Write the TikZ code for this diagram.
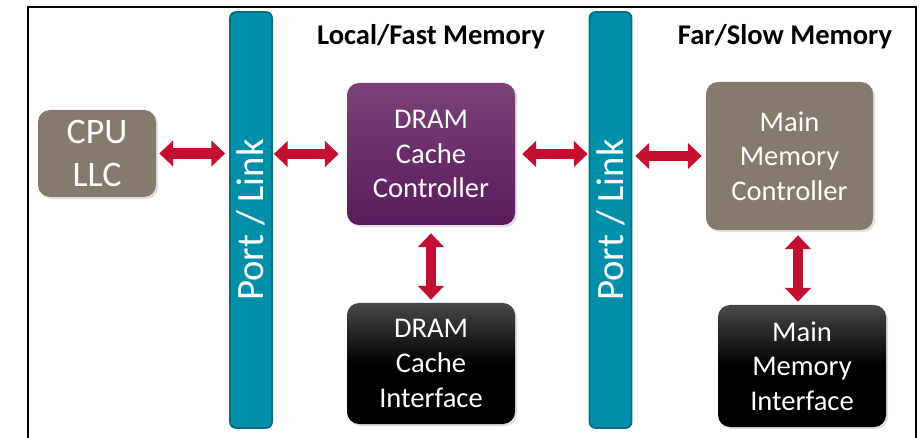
\documentclass[tikz,border=0pt]{standalone}
\usepackage{fontspec}
\setmainfont{Carlito}
\usetikzlibrary{positioning, arrows.meta, shadows}
\newdimen\pxu
\pxu=0.025cm

\begin{document}
\begin{tikzpicture}[
        x=0.025cm, y=-0.025cm,
        font=\fontsize{20.3}{24.6}\selectfont
    ]
        % Define custom colors matching the slide
        \definecolor{linkteal}{RGB}{0,143,168}
        \definecolor{linktealdark}{RGB}{0,112,132}
        \definecolor{cpugray}{RGB}{133,122,110}
        \definecolor{cachepurple}{RGB}{122,66,118}
        \definecolor{cachepurpledark}{RGB}{92,26,94}
        \definecolor{ifacegray}{RGB}{72,72,72}
        \definecolor{linkred}{RGB}{196,16,48}

        % Define node styles
        \tikzstyle{unit}=[
            rounded corners=12\pxu,
            text=white,
            align=center,
            inner sep=0pt,
            drop shadow={shadow xshift=1.5pt, shadow yshift=-1.5pt, opacity=0.25}
        ]
        \tikzstyle{portbar}=[
            draw=linktealdark, fill=linkteal, line width=1.2pt,
            rounded corners=6\pxu, text=white, inner sep=0pt,
            minimum width=42\pxu, minimum height=416\pxu
        ]
        \tikzstyle{linkarrow}=[
            linkred, line width=7.8pt,
            {Triangle[width=18pt, length=9.8pt]}-{Triangle[width=18pt, length=9.8pt]}
        ]
        \tikzstyle{heading}=[font=\fontsize{20.3}{24}\bfseries\selectfont, anchor=base]

        \useasboundingbox (0,0) rectangle (920,438);

        % --- Outer frame (open at the bottom) ---
        \draw[line width=2\pxu] (28,438) -- (28,7) -- (916,7) -- (916,438);

        % --- Port / Link bars ---
        \node[portbar] (port1) at (251,220) {\rotatebox{90}{\fontsize{27.5}{30}\selectfont Port / Link}};
        \node[portbar] (port2) at (610.5,220) {\rotatebox{90}{\fontsize{27.5}{30}\selectfont Port / Link}};

        % --- Headings ---
        \node[heading] (localhd) at (431,45) {Local/Fast Memory};
        \node[heading] (farhd) at (785,45) {Far/Slow Memory};

        % --- Units ---
        \node[unit, fill=cpugray, minimum width=118\pxu, minimum height=87\pxu,
              font=\fontsize{25.5}{31}\selectfont] (cpu) at (97,153.5) {CPU\\LLC};
        \node[unit, top color=cachepurple, bottom color=cachepurpledark,
              minimum width=168\pxu, minimum height=142\pxu] (dramctl) at (431,154) {DRAM\\Cache\\Controller};
        \node[unit, fill=cpugray, minimum width=167\pxu, minimum height=148\pxu] (mainctl) at (789.5,156) {Main\\Memory\\Controller};
        \node[unit, top color=ifacegray, bottom color=black, middle color=black,
              minimum width=168\pxu, minimum height=121\pxu] (dramif) at (431,363.5) {DRAM\\Cache\\Interface};
        \node[unit, top color=ifacegray, bottom color=black, middle color=black,
              minimum width=168\pxu, minimum height=122\pxu] (mainif) at (802,366) {Main\\Memory\\Interface};

        % --- Links ---
        \draw[linkarrow, shorten <=3\pxu, shorten >=4\pxu] (cpu.east) -- (cpu.east -| port1.west);
        \draw[linkarrow, shorten <=1\pxu, shorten >=8\pxu] (port1.east |- dramctl.west) -- (dramctl.west);
        \draw[linkarrow, shorten <=7\pxu, shorten >=1\pxu] (dramctl.east) -- (dramctl.east -| port2.west);
        \draw[linkarrow, shorten <=3\pxu, shorten >=4\pxu] (port2.east |- mainctl.west) -- (mainctl.west);
        \draw[linkarrow, shorten <=8\pxu, shorten >=3\pxu] (dramctl.south) -- (dramif.north);
        \draw[linkarrow, shorten <=5\pxu, shorten >=3\pxu] ([xshift=-4\pxu]mainctl.south -| mainif.north) -- ([xshift=-4\pxu]mainif.north);

    \end{tikzpicture}
\end{document}
